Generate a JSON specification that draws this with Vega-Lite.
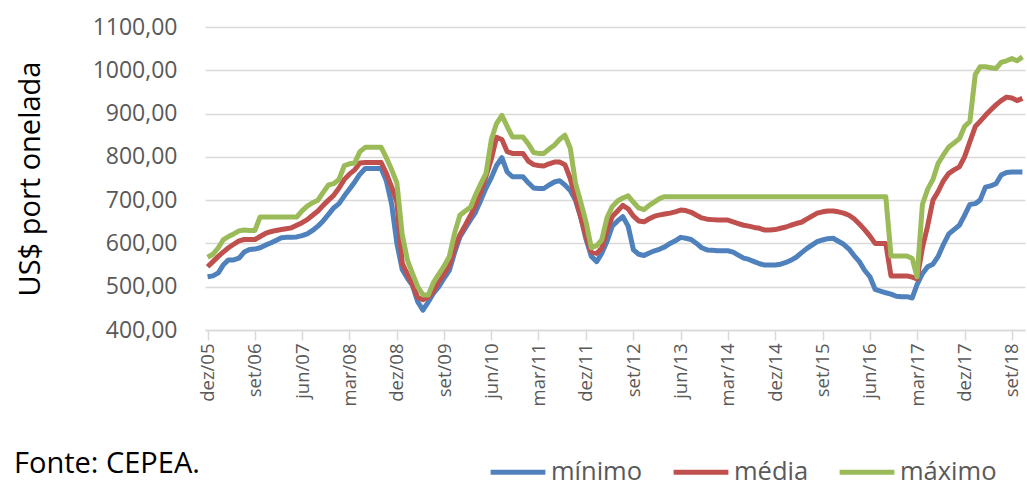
{
"$schema": "https://vega.github.io/schema/vega-lite/v6.json",
"autosize": "none",
"width": 820, "height": 303,
"padding": {"left": 205, "top": 27, "right": 2, "bottom": 160},
"background": "white",
"config": {"font": "Open Sans", "view": {"stroke": null}},
"data": {"values": [
{"d":"2005-12","mn":523,"md":546,"mx":568},
{"d":"2006-01","mn":525,"md":558,"mx":575},
{"d":"2006-02","mn":532,"md":570,"mx":590},
{"d":"2006-03","mn":550,"md":580,"mx":608},
{"d":"2006-04","mn":562,"md":590,"mx":616},
{"d":"2006-05","mn":562,"md":598,"mx":622},
{"d":"2006-06","mn":566,"md":606,"mx":629},
{"d":"2006-07","mn":580,"md":609,"mx":631},
{"d":"2006-08","mn":586,"md":609,"mx":630},
{"d":"2006-09","mn":587,"md":609,"mx":630},
{"d":"2006-10","mn":590,"md":616,"mx":661},
{"d":"2006-11","mn":596,"md":623,"mx":661},
{"d":"2006-12","mn":601,"md":627,"mx":661},
{"d":"2007-01","mn":607,"md":630,"mx":661},
{"d":"2007-02","mn":613,"md":632,"mx":661},
{"d":"2007-03","mn":614,"md":634,"mx":661},
{"d":"2007-04","mn":614,"md":636,"mx":661},
{"d":"2007-05","mn":615,"md":642,"mx":661},
{"d":"2007-06","mn":618,"md":648,"mx":675},
{"d":"2007-07","mn":622,"md":655,"mx":686},
{"d":"2007-08","mn":630,"md":665,"mx":694},
{"d":"2007-09","mn":640,"md":675,"mx":700},
{"d":"2007-10","mn":652,"md":688,"mx":718},
{"d":"2007-11","mn":667,"md":700,"mx":735},
{"d":"2007-12","mn":682,"md":711,"mx":738},
{"d":"2008-01","mn":692,"md":728,"mx":748},
{"d":"2008-02","mn":710,"md":748,"mx":780},
{"d":"2008-03","mn":725,"md":760,"mx":784},
{"d":"2008-04","mn":742,"md":770,"mx":786},
{"d":"2008-05","mn":760,"md":786,"mx":812},
{"d":"2008-06","mn":773,"md":787,"mx":822},
{"d":"2008-07","mn":773,"md":787,"mx":822},
{"d":"2008-08","mn":773,"md":787,"mx":822},
{"d":"2008-09","mn":773,"md":787,"mx":822},
{"d":"2008-10","mn":745,"md":762,"mx":798},
{"d":"2008-11","mn":690,"md":730,"mx":770},
{"d":"2008-12","mn":600,"md":695,"mx":740},
{"d":"2009-01","mn":540,"md":554,"mx":620},
{"d":"2009-02","mn":519,"md":528,"mx":560},
{"d":"2009-03","mn":503,"md":505,"mx":531},
{"d":"2009-04","mn":465,"md":475,"mx":500},
{"d":"2009-05","mn":446,"md":470,"mx":481},
{"d":"2009-06","mn":465,"md":476,"mx":481},
{"d":"2009-07","mn":485,"md":490,"mx":510},
{"d":"2009-08","mn":500,"md":512,"mx":529},
{"d":"2009-09","mn":520,"md":530,"mx":548},
{"d":"2009-10","mn":538,"md":550,"mx":570},
{"d":"2009-11","mn":580,"md":590,"mx":625},
{"d":"2009-12","mn":615,"md":620,"mx":665},
{"d":"2010-01","mn":635,"md":642,"mx":675},
{"d":"2010-02","mn":655,"md":665,"mx":684},
{"d":"2010-03","mn":672,"md":688,"mx":712},
{"d":"2010-04","mn":700,"md":720,"mx":738},
{"d":"2010-05","mn":728,"md":755,"mx":762},
{"d":"2010-06","mn":752,"md":795,"mx":840},
{"d":"2010-07","mn":780,"md":845,"mx":877},
{"d":"2010-08","mn":798,"md":840,"mx":896},
{"d":"2010-09","mn":765,"md":812,"mx":870},
{"d":"2010-10","mn":754,"md":808,"mx":846},
{"d":"2010-11","mn":754,"md":808,"mx":846},
{"d":"2010-12","mn":754,"md":808,"mx":846},
{"d":"2011-01","mn":740,"md":790,"mx":830},
{"d":"2011-02","mn":728,"md":782,"mx":810},
{"d":"2011-03","mn":727,"md":780,"mx":808},
{"d":"2011-04","mn":727,"md":779,"mx":808},
{"d":"2011-05","mn":735,"md":784,"mx":818},
{"d":"2011-06","mn":742,"md":788,"mx":827},
{"d":"2011-07","mn":745,"md":788,"mx":840},
{"d":"2011-08","mn":735,"md":782,"mx":850},
{"d":"2011-09","mn":722,"md":750,"mx":820},
{"d":"2011-10","mn":700,"md":705,"mx":740},
{"d":"2011-11","mn":660,"md":660,"mx":695},
{"d":"2011-12","mn":610,"md":615,"mx":650},
{"d":"2012-01","mn":570,"md":580,"mx":590},
{"d":"2012-02","mn":558,"md":577,"mx":595},
{"d":"2012-03","mn":577,"md":589,"mx":608},
{"d":"2012-04","mn":605,"md":630,"mx":660},
{"d":"2012-05","mn":640,"md":662,"mx":685},
{"d":"2012-06","mn":652,"md":675,"mx":698},
{"d":"2012-07","mn":662,"md":688,"mx":705},
{"d":"2012-08","mn":640,"md":680,"mx":710},
{"d":"2012-09","mn":585,"md":663,"mx":695},
{"d":"2012-10","mn":575,"md":652,"mx":682},
{"d":"2012-11","mn":572,"md":650,"mx":678},
{"d":"2012-12","mn":578,"md":657,"mx":688},
{"d":"2013-01","mn":583,"md":663,"mx":696},
{"d":"2013-02","mn":587,"md":666,"mx":704},
{"d":"2013-03","mn":592,"md":668,"mx":708},
{"d":"2013-04","mn":600,"md":670,"mx":708},
{"d":"2013-05","mn":606,"md":673,"mx":708},
{"d":"2013-06","mn":614,"md":677,"mx":708},
{"d":"2013-07","mn":612,"md":676,"mx":708},
{"d":"2013-08","mn":609,"md":672,"mx":708},
{"d":"2013-09","mn":600,"md":665,"mx":708},
{"d":"2013-10","mn":590,"md":659,"mx":708},
{"d":"2013-11","mn":585,"md":656,"mx":708},
{"d":"2013-12","mn":584,"md":655,"mx":708},
{"d":"2014-01","mn":583,"md":654,"mx":708},
{"d":"2014-02","mn":583,"md":654,"mx":708},
{"d":"2014-03","mn":583,"md":654,"mx":708},
{"d":"2014-04","mn":580,"md":650,"mx":708},
{"d":"2014-05","mn":573,"md":646,"mx":708},
{"d":"2014-06","mn":566,"md":642,"mx":708},
{"d":"2014-07","mn":563,"md":640,"mx":708},
{"d":"2014-08","mn":558,"md":637,"mx":708},
{"d":"2014-09","mn":553,"md":635,"mx":708},
{"d":"2014-10","mn":550,"md":631,"mx":708},
{"d":"2014-11","mn":550,"md":631,"mx":708},
{"d":"2014-12","mn":550,"md":632,"mx":708},
{"d":"2015-01","mn":552,"md":635,"mx":708},
{"d":"2015-02","mn":556,"md":638,"mx":708},
{"d":"2015-03","mn":561,"md":642,"mx":708},
{"d":"2015-04","mn":568,"md":646,"mx":708},
{"d":"2015-05","mn":578,"md":649,"mx":708},
{"d":"2015-06","mn":588,"md":656,"mx":708},
{"d":"2015-07","mn":596,"md":663,"mx":708},
{"d":"2015-08","mn":604,"md":670,"mx":708},
{"d":"2015-09","mn":608,"md":673,"mx":708},
{"d":"2015-10","mn":611,"md":675,"mx":708},
{"d":"2015-11","mn":612,"md":675,"mx":708},
{"d":"2015-12","mn":605,"md":673,"mx":708},
{"d":"2016-01","mn":598,"md":670,"mx":708},
{"d":"2016-02","mn":587,"md":665,"mx":708},
{"d":"2016-03","mn":572,"md":657,"mx":708},
{"d":"2016-04","mn":558,"md":645,"mx":708},
{"d":"2016-05","mn":538,"md":632,"mx":708},
{"d":"2016-06","mn":523,"md":617,"mx":708},
{"d":"2016-07","mn":494,"md":600,"mx":708},
{"d":"2016-08","mn":490,"md":600,"mx":708},
{"d":"2016-09","mn":486,"md":600,"mx":708},
{"d":"2016-10","mn":483,"md":525,"mx":571},
{"d":"2016-11","mn":478,"md":525,"mx":571},
{"d":"2016-12","mn":477,"md":525,"mx":571},
{"d":"2017-01","mn":477,"md":525,"mx":571},
{"d":"2017-02","mn":474,"md":522,"mx":565},
{"d":"2017-03","mn":505,"md":518,"mx":523},
{"d":"2017-04","mn":530,"md":590,"mx":690},
{"d":"2017-05","mn":546,"md":640,"mx":725},
{"d":"2017-06","mn":552,"md":700,"mx":748},
{"d":"2017-07","mn":570,"md":720,"mx":785},
{"d":"2017-08","mn":598,"md":745,"mx":805},
{"d":"2017-09","mn":622,"md":762,"mx":823},
{"d":"2017-10","mn":632,"md":770,"mx":832},
{"d":"2017-11","mn":642,"md":777,"mx":842},
{"d":"2017-12","mn":665,"md":800,"mx":870},
{"d":"2018-01","mn":690,"md":835,"mx":882},
{"d":"2018-02","mn":692,"md":870,"mx":990},
{"d":"2018-03","mn":700,"md":882,"mx":1008},
{"d":"2018-04","mn":730,"md":896,"mx":1008},
{"d":"2018-05","mn":733,"md":908,"mx":1006},
{"d":"2018-06","mn":738,"md":920,"mx":1004},
{"d":"2018-07","mn":758,"md":930,"mx":1018},
{"d":"2018-08","mn":764,"md":938,"mx":1022},
{"d":"2018-09","mn":765,"md":936,"mx":1027},
{"d":"2018-10","mn":765,"md":930,"mx":1022},
{"d":"2018-11","mn":765,"md":935,"mx":1031}
]},
"transform": [{"fold": ["mn", "md", "mx"], "as": ["s", "v"]}],
"mark": {"type": "line", "strokeWidth": 5, "strokeJoin": "round"},
"encoding": {
  "x": {"field": "d", "type": "temporal",
    "scale": {"type": "utc", "domain": [{"year": 2005, "month": 11, "date": 16, "utc": true}, {"year": 2018, "month": 11, "date": 16, "utc": true}]},
    "axis": {"title": null,
      "values": [
        {"year": 2005, "month": 12, "utc": true}, {"year": 2006, "month": 9, "utc": true},
        {"year": 2007, "month": 6, "utc": true}, {"year": 2008, "month": 3, "utc": true},
        {"year": 2008, "month": 12, "utc": true}, {"year": 2009, "month": 9, "utc": true},
        {"year": 2010, "month": 6, "utc": true}, {"year": 2011, "month": 3, "utc": true},
        {"year": 2011, "month": 12, "utc": true}, {"year": 2012, "month": 9, "utc": true},
        {"year": 2013, "month": 6, "utc": true}, {"year": 2014, "month": 3, "utc": true},
        {"year": 2014, "month": 12, "utc": true}, {"year": 2015, "month": 9, "utc": true},
        {"year": 2016, "month": 6, "utc": true}, {"year": 2017, "month": 3, "utc": true},
        {"year": 2017, "month": 12, "utc": true}, {"year": 2018, "month": 9, "utc": true}
      ],
      "labelExpr": "['jan','fev','mar','abr','mai','jun','jul','ago','set','out','nov','dez'][utcmonth(datum.value)] + '/' + utcFormat(datum.value, '%y')",
      "labelAngle": 270, "labelFontSize": 18.5, "labelColor": "#595959", "labelPadding": 3,
      "labelOverlap": false, "labelFlush": false,
      "grid": false, "domainColor": "#d9d9d9", "domainWidth": 1.5,
      "tickColor": "#d9d9d9", "tickWidth": 1.5, "tickSize": 10}},
  "y": {"field": "v", "type": "quantitative",
    "scale": {"domain": [400, 1100]},
    "axis": {"title": "US$ port onelada",
      "values": [400, 500, 600, 700, 800, 900, 1000, 1100],
      "labelExpr": "replace(format(datum.value, '.2f'), '.', ',')",
      "labelFontSize": 23, "labelColor": "#595959", "labelPadding": 28,
      "ticks": false, "domain": false, "gridColor": "#d9d9d9", "gridWidth": 1.5,
      "titleFontSize": 29, "titleFontWeight": "normal", "titleColor": "#000000", "titlePadding": 47}},
  "color": {"field": "s", "type": "nominal",
    "scale": {"domain": ["mn", "md", "mx"], "range": ["#4F81BD", "#C0504D", "#9BBB59"]},
    "legend": {"title": "Fonte: CEPEA.", "orient": "none", "legendX": -191, "legendY": 415,
      "direction": "horizontal", "titleOrient": "left", "titleFontSize": 29, "titleLimit": 400,
      "titleAnchor": "middle", "titleBaseline": "middle",
      "titleFontWeight": "normal", "titleColor": "#000000", "titlePadding": 288,
      "symbolType": "stroke", "symbolSize": 3000, "symbolStrokeWidth": 5,
      "labelFontSize": 25.5, "labelColor": "#595959", "labelOffset": 3, "columnPadding": 20,
      "labelExpr": "datum.label == 'mn' ? 'mínimo' : datum.label == 'md' ? 'média' : 'máximo'"}}
}
}
